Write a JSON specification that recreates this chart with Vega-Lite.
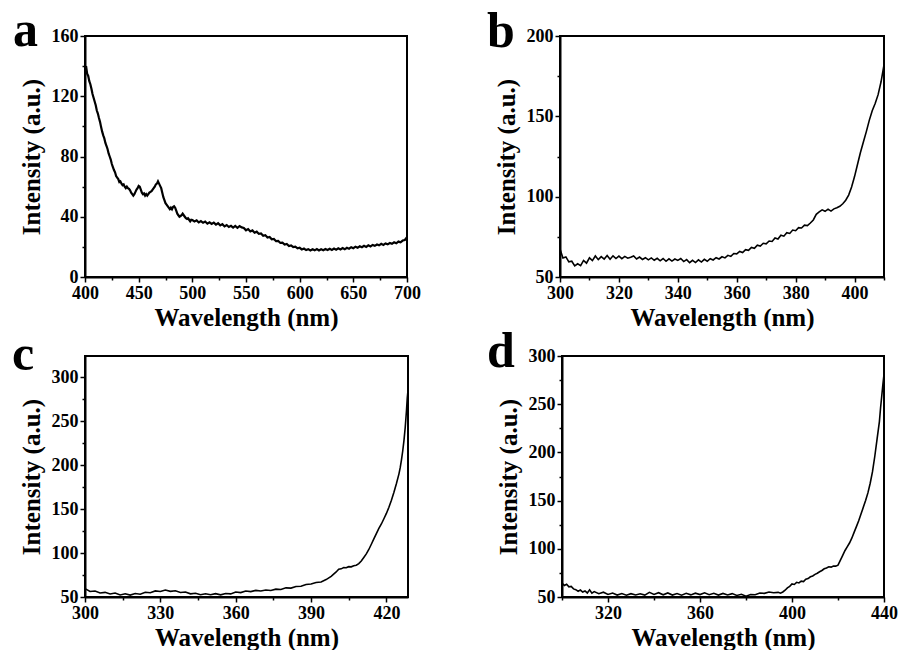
{
  "$schema": "https://vega.github.io/schema/vega-lite/v6.json",
  "padding": {"left": 11, "top": 5, "right": 0, "bottom": 0},
  "background": "white",
  "bounds": "flush",
  "spacing": 320,
  "config": {
    "font": "Liberation Serif",
    "view": {"stroke": "black", "strokeWidth": 2},
    "axis": {
      "domainColor": "black", "domainWidth": 2,
      "tickColor": "black", "tickWidth": 1.5,
      "labelColor": "black", "labelFont": "Liberation Serif", "labelFontSize": 18, "labelFontWeight": "bold",
      "labelPadding": 2, "labelFlush": false, "labelOverlap": false,
      "titleColor": "black", "titleFont": "Liberation Serif", "titleFontSize": 25, "titleFontWeight": "bold",
      "grid": false
    },
    "axisX": {"titlePadding": 3},
    "axisY": {"titlePadding": 7},
    "title": {"font": "Liberation Serif", "fontSize": 50, "fontWeight": "bold", "color": "black", "anchor": "start", "frame": "group", "baseline": "alphabetic"},
    "line": {"color": "black", "strokeWidth": 1.6}
  },
  "datasets": {
    "a": [
      {"x":400,"y":138},{"x":401,"y":140},{"x":402,"y":135},{"x":403,"y":133.5},{"x":404,"y":130},{"x":405,"y":128},{"x":406,"y":125},{"x":407,"y":121.5},{"x":408,"y":119},{"x":409,"y":116.5},{"x":410,"y":114},{"x":411,"y":110.5},{"x":412,"y":108.5},{"x":413,"y":105.5},{"x":414,"y":103},{"x":415,"y":99.5},{"x":416,"y":96.5},{"x":417,"y":94},{"x":418,"y":92},{"x":419,"y":89},{"x":420,"y":87},{"x":421,"y":85},{"x":422,"y":82},{"x":423,"y":80},{"x":424,"y":78},{"x":425,"y":75},{"x":426,"y":73},{"x":427,"y":71},{"x":428,"y":69.5},{"x":429,"y":67},{"x":430,"y":66},{"x":431,"y":65},{"x":432,"y":63},{"x":433,"y":63.5},{"x":434,"y":62},{"x":435,"y":61},{"x":436,"y":61.5},{"x":437,"y":60},{"x":438,"y":59},{"x":439,"y":60},{"x":440,"y":59},{"x":441,"y":58.5},{"x":442,"y":57.5},{"x":443,"y":56},{"x":444,"y":55},{"x":445,"y":54},{"x":446,"y":55},{"x":447,"y":56.5},{"x":448,"y":58},{"x":449,"y":59},{"x":450,"y":60.5},{"x":451,"y":60},{"x":452,"y":58},{"x":453,"y":56},{"x":454,"y":55},{"x":455,"y":55.5},{"x":456,"y":54},{"x":457,"y":55},{"x":458,"y":54},{"x":459,"y":55},{"x":460,"y":56},{"x":461,"y":56.5},{"x":462,"y":57},{"x":463,"y":58},{"x":464,"y":59},{"x":465,"y":60},{"x":466,"y":61.5},{"x":467,"y":62},{"x":468,"y":63.5},{"x":469,"y":62},{"x":470,"y":60.5},{"x":471,"y":59},{"x":472,"y":56},{"x":473,"y":53},{"x":474,"y":51},{"x":475,"y":49},{"x":476,"y":48},{"x":477,"y":47},{"x":478,"y":46},{"x":479,"y":45},{"x":480,"y":46},{"x":481,"y":45},{"x":482,"y":46.5},{"x":483,"y":47},{"x":484,"y":46},{"x":485,"y":44},{"x":486,"y":42},{"x":487,"y":41},{"x":488,"y":40},{"x":489,"y":40.5},{"x":490,"y":41},{"x":491,"y":42},{"x":492,"y":41},{"x":493,"y":40},{"x":494,"y":39},{"x":495,"y":38.5},{"x":496,"y":39},{"x":497,"y":38},{"x":498,"y":37},{"x":499,"y":38},
      {"x":500,"y":37.8},{"x":502,"y":36.9},{"x":504,"y":37.6},{"x":506,"y":36.2},{"x":508,"y":37.1},{"x":510,"y":36.0},{"x":512,"y":36.8},{"x":514,"y":35.4},{"x":516,"y":36.3},{"x":518,"y":35.2},{"x":520,"y":36.1},{"x":522,"y":34.8},{"x":524,"y":35.7},{"x":526,"y":34.3},{"x":528,"y":35.1},{"x":530,"y":33.6},{"x":532,"y":34.5},{"x":534,"y":33.2},{"x":536,"y":34.0},{"x":538,"y":32.8},{"x":540,"y":33.9},{"x":542,"y":32.7},{"x":544,"y":33.8},{"x":546,"y":32.9},{"x":548,"y":32.6},{"x":550,"y":31.0},{"x":552,"y":31.8},{"x":554,"y":30.2},{"x":556,"y":30.9},{"x":558,"y":29.4},{"x":560,"y":30.1},{"x":562,"y":28.6},{"x":564,"y":28.9},{"x":566,"y":27.4},{"x":568,"y":27.8},{"x":570,"y":26.2},{"x":572,"y":26.6},{"x":574,"y":25.0},{"x":576,"y":25.3},{"x":578,"y":23.8},{"x":580,"y":23.9},{"x":582,"y":22.6},{"x":584,"y":22.8},{"x":586,"y":21.5},{"x":588,"y":21.9},{"x":590,"y":20.6},{"x":592,"y":21.0},{"x":594,"y":19.8},{"x":596,"y":20.1},{"x":598,"y":19.0},{"x":600,"y":19.4},{"x":602,"y":18.3},{"x":604,"y":18.9},{"x":606,"y":17.9},{"x":608,"y":18.5},{"x":610,"y":17.6},{"x":612,"y":18.4},{"x":614,"y":17.7},{"x":616,"y":18.5},{"x":618,"y":17.6},{"x":620,"y":18.4},{"x":622,"y":17.8},{"x":624,"y":18.6},{"x":626,"y":17.9},{"x":628,"y":18.7},{"x":630,"y":18.0},{"x":632,"y":18.9},{"x":634,"y":18.1},{"x":636,"y":19.0},{"x":638,"y":18.3},{"x":640,"y":19.2},{"x":642,"y":18.4},{"x":644,"y":19.4},{"x":646,"y":18.8},{"x":648,"y":19.8},{"x":650,"y":19.1},{"x":652,"y":20.1},{"x":654,"y":19.4},{"x":656,"y":20.4},{"x":658,"y":19.8},{"x":660,"y":20.7},{"x":662,"y":20.0},{"x":664,"y":21.0},{"x":666,"y":20.3},{"x":668,"y":21.3},{"x":670,"y":20.7},{"x":672,"y":21.6},{"x":674,"y":21.0},{"x":676,"y":22.0},{"x":678,"y":21.3},{"x":680,"y":22.3},{"x":682,"y":21.7},{"x":684,"y":22.6},{"x":686,"y":22.0},{"x":688,"y":23.0},{"x":690,"y":22.4},{"x":692,"y":23.5},{"x":694,"y":23.0},{"x":696,"y":24.2},{"x":698,"y":24.6},{"x":700,"y":26.5}
    ],
    "b": [
      {"x":300,"y":67.5},{"x":301,"y":61.8},{"x":302,"y":62.5},{"x":303,"y":59.4},{"x":304,"y":59.8},{"x":305,"y":56.9},{"x":306,"y":58.2},{"x":307,"y":57.1},{"x":308,"y":60.3},{"x":309,"y":58.6},{"x":310,"y":61.9},{"x":311,"y":60.2},{"x":312,"y":63.1},{"x":313,"y":60.8},{"x":314,"y":62.7},{"x":315,"y":61.2},{"x":316,"y":63.4},{"x":317,"y":61.0},{"x":318,"y":63.2},{"x":319,"y":61.5},{"x":320,"y":63.0},{"x":321,"y":61.4},{"x":322,"y":62.8},{"x":323,"y":61.7},{"x":324,"y":62.3},{"x":325,"y":63.1},{"x":326,"y":61.2},{"x":327,"y":62.4},{"x":328,"y":60.9},{"x":329,"y":62.0},{"x":330,"y":60.7},{"x":331,"y":61.9},{"x":332,"y":60.4},{"x":333,"y":61.6},{"x":334,"y":60.1},{"x":335,"y":61.5},{"x":336,"y":59.8},{"x":337,"y":61.3},{"x":338,"y":59.9},{"x":339,"y":61.2},{"x":340,"y":60.3},{"x":341,"y":61.5},{"x":342,"y":59.6},{"x":343,"y":60.8},{"x":344,"y":58.9},{"x":345,"y":60.4},{"x":346,"y":59.0},{"x":347,"y":60.7},{"x":348,"y":59.3},{"x":349,"y":61.0},{"x":350,"y":59.8},{"x":351,"y":61.4},{"x":352,"y":60.6},{"x":353,"y":62.0},{"x":354,"y":61.2},{"x":355,"y":62.6},{"x":356,"y":61.9},{"x":357,"y":63.5},{"x":358,"y":62.8},{"x":359,"y":64.6},{"x":360,"y":64.4},{"x":361,"y":65.9},{"x":362,"y":65.2},{"x":363,"y":67.0},{"x":364,"y":66.6},{"x":365,"y":68.4},{"x":366,"y":67.9},{"x":367,"y":69.8},{"x":368,"y":69.3},{"x":369,"y":71.0},{"x":370,"y":70.6},{"x":371,"y":72.4},{"x":372,"y":72.1},{"x":373,"y":74.3},{"x":374,"y":73.6},{"x":375,"y":76.0},{"x":376,"y":75.4},{"x":377,"y":77.6},{"x":378,"y":77.1},{"x":379,"y":79.2},{"x":380,"y":78.8},{"x":381,"y":80.7},{"x":382,"y":80.5},{"x":383,"y":82.3},{"x":384,"y":82.0},{"x":385,"y":83.6},{"x":386,"y":85.5},{"x":387,"y":89.0},{"x":388,"y":90.5},{"x":389,"y":91.8},{"x":390,"y":90.9},{"x":391,"y":92.2},{"x":392,"y":91.0},{"x":393,"y":92.4},{"x":394,"y":93.1},{"x":395,"y":94.0},{"x":396,"y":95.6},{"x":397,"y":97.8},{"x":398,"y":101.0},{"x":399,"y":106.0},{"x":400,"y":112.5},{"x":401,"y":120.0},{"x":402,"y":127.5},{"x":403,"y":134.0},{"x":404,"y":140.5},{"x":405,"y":147.5},{"x":406,"y":153.5},{"x":407,"y":158.0},{"x":408,"y":163.5},{"x":409,"y":171.5},{"x":410,"y":182.0}
    ],
    "c": [
      {"x":300,"y":59.5},{"x":302,"y":56.2},{"x":304,"y":56.8},{"x":306,"y":54.6},{"x":308,"y":55.3},{"x":310,"y":53.4},{"x":312,"y":54.5},{"x":314,"y":52.3},{"x":316,"y":53.6},{"x":318,"y":52.2},{"x":320,"y":53.9},{"x":322,"y":53.1},{"x":324,"y":55.4},{"x":326,"y":54.8},{"x":328,"y":56.9},{"x":330,"y":56.3},{"x":332,"y":58.0},{"x":334,"y":56.4},{"x":336,"y":57.1},{"x":338,"y":55.2},{"x":340,"y":55.6},{"x":342,"y":53.6},{"x":344,"y":54.2},{"x":346,"y":52.6},{"x":348,"y":53.7},{"x":350,"y":52.5},{"x":352,"y":53.8},{"x":354,"y":52.4},{"x":356,"y":53.9},{"x":358,"y":53.5},{"x":360,"y":55.6},{"x":362,"y":55.0},{"x":364,"y":56.8},{"x":366,"y":56.1},{"x":368,"y":57.5},{"x":370,"y":56.8},{"x":372,"y":58.0},{"x":374,"y":57.4},{"x":376,"y":58.9},{"x":378,"y":58.6},{"x":380,"y":60.4},{"x":382,"y":60.1},{"x":384,"y":62.0},{"x":386,"y":62.2},{"x":388,"y":64.3},{"x":390,"y":64.8},{"x":392,"y":66.5},{"x":394,"y":67.1},{"x":396,"y":69.8},{"x":398,"y":73.5},{"x":400,"y":78.5},{"x":401,"y":81.5},{"x":402,"y":82.0},{"x":403,"y":83.5},{"x":404,"y":83.2},{"x":405,"y":84.5},{"x":406,"y":84.3},{"x":407,"y":85.6},{"x":408,"y":86.2},{"x":409,"y":88.0},{"x":410,"y":91.0},{"x":411,"y":95.0},{"x":412,"y":99.0},{"x":413,"y":104.0},{"x":414,"y":110.0},{"x":415,"y":116.0},{"x":416,"y":122.0},{"x":417,"y":128.0},{"x":418,"y":133.0},{"x":419,"y":139.0},{"x":420,"y":145.0},{"x":421,"y":152.0},{"x":422,"y":160.0},{"x":423,"y":169.0},{"x":424,"y":179.0},{"x":425,"y":190.0},{"x":425.5,"y":197.0},{"x":426,"y":206.0},{"x":426.5,"y":216.0},{"x":427,"y":228.0},{"x":427.5,"y":243.0},{"x":428,"y":262.0},{"x":428.3,"y":276.0},{"x":428.6,"y":285.0}
    ],
    "d": [
      {"x":300,"y":64.5},{"x":301,"y":62.0},{"x":302,"y":63.2},{"x":303,"y":60.5},{"x":304,"y":61.0},{"x":305,"y":58.4},{"x":306,"y":57.6},{"x":307,"y":56.0},{"x":308,"y":57.2},{"x":309,"y":55.1},{"x":310,"y":56.3},{"x":311,"y":54.2},{"x":312,"y":57.5},{"x":313,"y":54.0},{"x":314,"y":55.6},{"x":316,"y":53.4},{"x":318,"y":55.0},{"x":320,"y":52.6},{"x":322,"y":54.1},{"x":324,"y":52.0},{"x":326,"y":53.6},{"x":328,"y":51.8},{"x":330,"y":53.5},{"x":332,"y":52.1},{"x":334,"y":53.4},{"x":336,"y":52.0},{"x":338,"y":54.8},{"x":340,"y":52.6},{"x":342,"y":54.5},{"x":344,"y":52.3},{"x":346,"y":54.2},{"x":348,"y":52.0},{"x":350,"y":53.6},{"x":352,"y":51.9},{"x":354,"y":53.8},{"x":356,"y":52.2},{"x":358,"y":54.0},{"x":360,"y":52.5},{"x":362,"y":54.3},{"x":364,"y":52.4},{"x":366,"y":53.9},{"x":368,"y":52.0},{"x":370,"y":53.7},{"x":372,"y":52.1},{"x":374,"y":53.5},{"x":376,"y":51.6},{"x":378,"y":52.8},{"x":380,"y":50.9},{"x":382,"y":52.6},{"x":384,"y":52.4},{"x":386,"y":54.1},{"x":388,"y":53.8},{"x":390,"y":55.2},{"x":392,"y":54.4},{"x":394,"y":54.8},{"x":395,"y":53.9},{"x":396,"y":55.2},{"x":397,"y":57.0},{"x":398,"y":59.5},{"x":399,"y":61.0},{"x":400,"y":63.5},{"x":401,"y":63.0},{"x":402,"y":65.2},{"x":403,"y":64.6},{"x":404,"y":66.4},{"x":405,"y":66.0},{"x":406,"y":68.4},{"x":407,"y":69.1},{"x":408,"y":71.0},{"x":409,"y":71.8},{"x":410,"y":73.5},{"x":411,"y":74.6},{"x":412,"y":76.2},{"x":413,"y":77.5},{"x":414,"y":79.3},{"x":415,"y":80.1},{"x":416,"y":81.4},{"x":417,"y":81.0},{"x":418,"y":82.2},{"x":419,"y":82.0},{"x":420,"y":83.0},{"x":421,"y":88.0},{"x":422,"y":93.0},{"x":423,"y":98.0},{"x":424,"y":102.0},{"x":425,"y":106.0},{"x":426,"y":111.0},{"x":427,"y":117.0},{"x":428,"y":123.0},{"x":429,"y":129.0},{"x":430,"y":136.0},{"x":431,"y":143.0},{"x":432,"y":150.0},{"x":433,"y":158.0},{"x":434,"y":168.0},{"x":435,"y":180.0},{"x":436,"y":196.0},{"x":437,"y":214.0},{"x":438,"y":232.0},{"x":438.5,"y":246.0},{"x":439,"y":258.0},{"x":439.5,"y":270.0},{"x":440,"y":281.0}
    ]
  },
  "vconcat": [
    {
      "bounds": "flush",
      "spacing": 153,
      "hconcat": [
        {
          "width": 322, "height": 241,
          "title": {"text": "a", "dx": -72, "offset": -29},
          "data": {"name": "a"},
          "mark": {"type": "line", "strokeWidth": 2.2},
          "encoding": {
            "x": {"field": "x", "type": "quantitative", "scale": {"domain": [400, 700], "nice": false, "zero": false},
              "axis": {"title": "Wavelength (nm)", "values": [400,425,450,475,500,525,550,575,600,625,650,675,700],
                "labelExpr": "datum.value % 50 === 0 ? datum.label : ''",
                "tickSize": {"condition": {"test": "datum.value % 50 === 0", "value": 5}, "value": 3}}},
            "y": {"field": "y", "type": "quantitative", "scale": {"domain": [0, 160], "nice": false},
              "axis": {"title": "Intensity (a.u.)", "values": [0,20,40,60,80,100,120,140,160],
                "labelExpr": "datum.value % 40 === 0 ? datum.label : ''",
                "tickSize": {"condition": {"test": "datum.value % 40 === 0", "value": 5}, "value": 3}}}
          }
        },
        {
          "width": 324, "height": 241,
          "title": {"text": "b", "dx": -73, "offset": -30},
          "data": {"name": "b"},
          "mark": {"type": "line"},
          "encoding": {
            "x": {"field": "x", "type": "quantitative", "scale": {"domain": [300, 410], "nice": false, "zero": false},
              "axis": {"title": "Wavelength (nm)", "values": [300,310,320,330,340,350,360,370,380,390,400,410],
                "labelExpr": "datum.value % 20 === 0 ? datum.label : ''",
                "tickSize": {"condition": {"test": "datum.value % 20 === 0", "value": 5}, "value": 3}}},
            "y": {"field": "y", "type": "quantitative", "scale": {"domain": [50, 200], "nice": false, "zero": false},
              "axis": {"title": "Intensity (a.u.)", "values": [50,75,100,125,150,175,200],
                "labelExpr": "datum.value % 50 === 0 ? datum.label : ''",
                "tickSize": {"condition": {"test": "datum.value % 50 === 0", "value": 5}, "value": 3}}}
          }
        }
      ]
    },
    {
      "bounds": "flush",
      "spacing": 154,
      "hconcat": [
        {
          "width": 323, "height": 241,
          "title": {"text": "c", "dx": -73, "offset": -24},
          "data": {"name": "c"},
          "mark": {"type": "line"},
          "encoding": {
            "x": {"field": "x", "type": "quantitative", "scale": {"domain": [300, 428.6], "nice": false, "zero": false},
              "axis": {"title": "Wavelength (nm)", "values": [300,315,330,345,360,375,390,405,420],
                "labelExpr": "(datum.value - 300) % 30 === 0 ? datum.label : ''",
                "tickSize": {"condition": {"test": "(datum.value - 300) % 30 === 0", "value": 5}, "value": 3}}},
            "y": {"field": "y", "type": "quantitative", "scale": {"domain": [50, 324], "nice": false, "zero": false},
              "axis": {"title": "Intensity (a.u.)", "values": [50,75,100,125,150,175,200,225,250,275,300],
                "labelExpr": "datum.value % 50 === 0 ? datum.label : ''",
                "tickSize": {"condition": {"test": "datum.value % 50 === 0", "value": 5}, "value": 3}}}
          }
        },
        {
          "width": 322, "height": 241,
          "title": {"text": "d", "dx": -75, "offset": -30},
          "data": {"name": "d"},
          "mark": {"type": "line"},
          "encoding": {
            "x": {"field": "x", "type": "quantitative", "scale": {"domain": [300, 440], "nice": false, "zero": false},
              "axis": {"title": "Wavelength (nm)", "values": [300,320,340,360,380,400,420,440],
                "labelExpr": "(datum.value - 320) % 40 === 0 ? datum.label : ''",
                "tickSize": {"condition": {"test": "(datum.value - 320) % 40 === 0", "value": 5}, "value": 3}}},
            "y": {"field": "y", "type": "quantitative", "scale": {"domain": [50, 300], "nice": false, "zero": false},
              "axis": {"title": "Intensity (a.u.)", "values": [50,75,100,125,150,175,200,225,250,275,300],
                "labelExpr": "datum.value % 50 === 0 ? datum.label : ''",
                "tickSize": {"condition": {"test": "datum.value % 50 === 0", "value": 5}, "value": 3}}}
          }
        }
      ]
    }
  ]
}
